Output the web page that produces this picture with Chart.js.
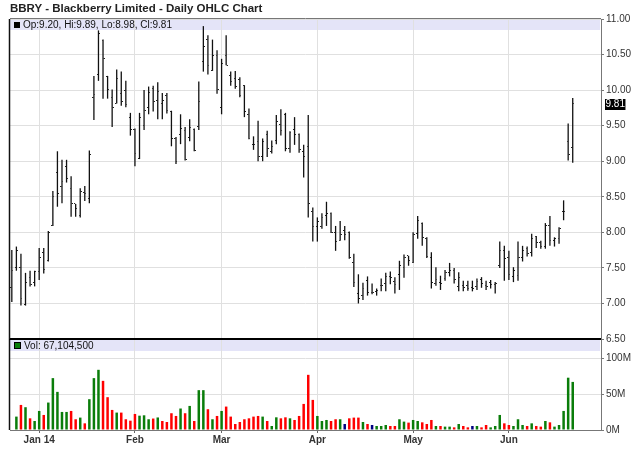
<!DOCTYPE html>
<html>
<head>
<meta charset="utf-8">
<script src="https://cdn.jsdelivr.net/npm/chart.js@4.4.1/dist/chart.umd.min.js"></script>
<style>
  body { margin: 0; background: #fff; width: 640px; height: 468px; position: relative; overflow: hidden;
         font-family: "Liberation Sans", Arial, sans-serif; }
  canvas { position: absolute; left: 0; }
  #priceCanvas { top: 0; }
  #volCanvas { top: 330px; }
  .txt { position: absolute; white-space: nowrap; color: #111; }
  #title { left: 10px; top: 1px; font-weight: bold; font-size: 11.5px; line-height: 14px; color: #222; }
  .legend { left: 14px; font-size: 10px; line-height: 11px; }
  .sq { display: inline-block; width: 6px; height: 6px; background: #000; margin-right: 3px; vertical-align: 0; }
  .sq.vol { width: 5px; height: 5px; background: #0a7d0a; border: 1px solid #000; }
</style>
</head>
<body>
<canvas id="volCanvas" width="640" height="138"></canvas>
<canvas id="priceCanvas" width="640" height="350"></canvas>
<div id="title" class="txt">BBRY - Blackberry Limited - Daily OHLC Chart</div>
<div id="priceLegend" class="txt legend" style="top:19px"></div>
<div id="volLegend" class="txt legend" style="top:340px"></div>
<script>
// daily bars, 23 Dec 2013 .. 20 Jun 2014 (x = trading day index)
const opens = [7.22, 7.50, 7.50, 6.99, 7.37, 7.30, 7.45, 7.71, 7.61, 8.09,
  8.84, 8.64, 8.93, 8.61, 8.40, 8.23, 8.56, 8.48, 9.90, 10.22,
  10.70, 10.19, 9.90, 9.81, 9.95, 10.00, 9.62, 9.44, 9.04, 9.50,
  9.76, 10.02, 9.85, 9.81, 9.93, 9.70, 9.32, 9.37, 9.43, 9.34,
  9.44, 9.49, 10.40, 10.71, 10.28, 10.49, 9.76, 10.49, 10.21, 10.16,
  10.15, 10.06, 9.66, 9.24, 9.28, 9.07, 9.37, 9.14, 9.29, 9.51,
  9.66, 9.18, 9.44, 9.38, 9.14, 9.21, 8.29, 8.08, 8.08, 8.24,
  8.27, 8.00, 7.88, 8.03, 8.00, 7.57, 7.14, 7.11, 7.32, 7.16,
  7.17, 7.25, 7.28, 7.38, 7.31, 7.41, 7.51, 7.67, 7.58, 7.98,
  8.12, 7.91, 7.64, 7.28, 7.29, 7.35, 7.44, 7.46, 7.24, 7.25,
  7.25, 7.23, 7.24, 7.33, 7.25, 7.30, 7.27, 7.53, 7.74, 7.64,
  7.38, 7.39, 7.64, 7.77, 7.71, 7.94, 7.86, 7.80, 8.09, 7.88,
  7.91, 8.30, 9.28, 9.20];
const highs = [7.75, 7.80, 7.70, 7.43, 7.46, 7.46, 7.78, 7.78, 8.02, 8.58,
  9.14, 9.02, 9.02, 8.79, 8.40, 8.62, 8.65, 9.15, 10.20, 10.84,
  10.71, 10.20, 10.01, 10.29, 10.26, 10.13, 9.68, 9.46, 9.68, 10.00,
  10.05, 10.06, 10.11, 9.96, 9.96, 9.71, 9.34, 9.66, 9.48, 9.59,
  9.46, 10.12, 10.90, 10.77, 10.71, 10.56, 10.44, 10.77, 10.26, 10.27,
  10.18, 10.07, 9.74, 9.35, 9.57, 9.32, 9.43, 9.29, 9.65, 9.73,
  9.68, 9.42, 9.62, 9.39, 9.23, 9.65, 8.35, 8.21, 8.27, 8.43,
  8.28, 8.09, 8.16, 8.09, 8.01, 7.70, 7.41, 7.29, 7.38, 7.28,
  7.21, 7.35, 7.43, 7.45, 7.37, 7.60, 7.69, 7.67, 8.00, 8.23,
  8.14, 7.93, 7.72, 7.51, 7.39, 7.47, 7.57, 7.50, 7.44, 7.32,
  7.32, 7.32, 7.35, 7.37, 7.32, 7.33, 7.30, 7.87, 7.81, 7.74,
  7.51, 7.87, 7.81, 7.80, 7.98, 7.95, 7.88, 8.13, 8.23, 7.93,
  8.07, 8.45, 9.53, 9.89];
const lows = [7.02, 7.46, 6.97, 6.97, 7.24, 7.24, 7.33, 7.42, 7.59, 8.09,
  8.36, 8.41, 8.70, 8.22, 8.22, 8.21, 8.44, 8.41, 9.58, 10.13,
  9.88, 9.88, 9.48, 9.81, 9.78, 9.76, 9.36, 8.93, 9.03, 9.44,
  9.66, 9.70, 9.59, 9.59, 9.67, 9.21, 8.96, 9.24, 9.01, 9.28,
  9.14, 9.44, 10.26, 10.22, 10.27, 9.95, 9.66, 10.35, 10.06, 10.02,
  9.90, 9.62, 9.31, 9.16, 9.00, 9.00, 9.06, 9.11, 9.24, 9.36,
  9.14, 9.12, 9.23, 9.12, 8.77, 8.21, 7.87, 7.87, 8.05, 8.09,
  7.99, 7.74, 7.88, 7.89, 7.63, 7.23, 7.00, 7.05, 7.11, 7.13,
  7.11, 7.17, 7.17, 7.27, 7.14, 7.19, 7.36, 7.53, 7.57, 7.91,
  7.81, 7.64, 7.21, 7.25, 7.19, 7.32, 7.38, 7.28, 7.17, 7.17,
  7.18, 7.17, 7.19, 7.22, 7.19, 7.21, 7.14, 7.50, 7.32, 7.33,
  7.30, 7.32, 7.59, 7.66, 7.66, 7.78, 7.77, 7.77, 7.81, 7.80,
  7.84, 8.17, 9.01, 8.98];
const closes = [7.47, 7.74, 7.07, 7.30, 7.26, 7.45, 7.64, 7.48, 8.00, 8.51,
  8.54, 8.72, 8.76, 8.40, 8.33, 8.57, 8.55, 9.09, 9.94, 10.79,
  10.44, 10.01, 9.76, 10.16, 9.84, 9.80, 9.45, 9.11, 9.62, 9.71,
  9.96, 9.84, 9.98, 9.85, 9.72, 9.32, 8.99, 9.46, 9.02, 9.48,
  9.15, 9.84, 10.61, 10.34, 10.49, 10.01, 10.37, 10.35, 10.12, 10.05,
  9.92, 9.70, 9.32, 9.23, 9.07, 9.28, 9.18, 9.21, 9.56, 9.43,
  9.18, 9.40, 9.37, 9.16, 9.07, 8.41, 8.08, 8.15, 8.21, 8.26,
  8.00, 7.87, 7.97, 7.97, 7.64, 7.29, 7.07, 7.21, 7.16, 7.16,
  7.18, 7.25, 7.38, 7.36, 7.27, 7.53, 7.64, 7.60, 7.97, 8.16,
  7.93, 7.66, 7.29, 7.33, 7.28, 7.44, 7.47, 7.33, 7.36, 7.23,
  7.21, 7.21, 7.31, 7.28, 7.24, 7.27, 7.28, 7.74, 7.63, 7.41,
  7.46, 7.64, 7.74, 7.70, 7.91, 7.86, 7.80, 8.09, 7.88, 7.91,
  8.05, 8.29, 9.10, 9.81];
// volume in millions of shares (first day has no bar)
const volumesM = [null, 18.7, 35, 31.8, 16.3, 12.6, 26.6, 21, 38.3, 72.4,
  53.2, 25.2, 25.2, 26.6, 15, 17.3, 9.3, 43, 72.4, 84,
  68.6, 45.8, 28, 24.3, 24.3, 15, 13, 22.4, 20, 20.5,
  15, 16, 17.5, 12.6, 11.2, 23.4, 19.6, 30, 23.4, 33.6,
  12.6, 55.6, 55.6, 29, 15, 19.6, 26.6, 32.7, 18.7, 8.4,
  11.2, 15, 16.3, 18.7, 19.6, 18.7, 12.6, 5.6, 17.7, 16.3,
  17.7, 16.3, 14, 19.6, 36.4, 77, 42, 19.6, 12.6, 14,
  12.6, 15, 15, 8.4, 16.3, 17.3, 17.3, 11.2, 8.4, 7,
  5.6, 5.6, 7, 5.6, 5.6, 15, 11.7, 10.3, 14, 12.6,
  10.7, 8.4, 14, 5.6, 5.6, 4.7, 4.7, 3.7, 8.4, 5.6,
  3.7, 5.6, 5.6, 3.7, 7, 3.7, 5.6, 21, 9.3, 7,
  5.6, 15, 7, 5.6, 9.3, 5.6, 4.7, 12.6, 10.7, 4.7,
  7, 26.6, 73, 67.1045];
const monthTickIdx = [6, 27, 46, 67, 88, 109];
const monthTickLabels = ['Jan 14', 'Feb', 'Mar', 'Apr', 'May', 'Jun'];
const priceTicks = [6.5, 7, 7.5, 8, 8.5, 9, 9.5, 10, 10.5, 11];
const volTicksM = [0, 50, 100];

const FONT = '"Liberation Sans", Arial, sans-serif';
const GREEN = '#0a7d0a', RED = '#ff0000', BLUE = '#000080';
const GRID = '#e0e0e0', BAND = '#e4e4f8';
const X_MIN = -0.4, X_MAX = 129.2;

Chart.defaults.font.family = FONT;
Chart.defaults.font.size = 10;
Chart.defaults.color = '#333';

// legends
const last = closes.length - 1;
document.getElementById('priceLegend').innerHTML = '<span class="sq"></span>' +
  `Op:${opens[last].toFixed(2)}, Hi:${highs[last].toFixed(2)}, Lo:${lows[last].toFixed(2)}, Cl:${closes[last].toFixed(2)}`;
document.getElementById('volLegend').innerHTML = '<span class="sq vol"></span>' +
  'Vol: ' + Math.round(volumesM[last] * 1e6).toLocaleString('en-US');

// small open / close tick marks used as point styles
function tickImg(side) {
  const c = document.createElement('canvas');
  c.width = 3; c.height = 1;
  const g = c.getContext('2d');
  g.fillStyle = '#222';
  g.fillRect(side === 'left' ? 0 : 2, 0, 1, 1);
  return c;
}

const panelDeco = {
  id: 'panelDeco',
  beforeDraw(chart, args, opts) {
    const { ctx, chartArea: a } = chart;
    ctx.save();
    ctx.fillStyle = BAND;
    ctx.fillRect(a.left, a.top + opts.bandOffset, a.right - a.left - 1, 11);
    ctx.restore();
  },
  afterDraw(chart, args, opts) {
    const { ctx, chartArea: a } = chart;
    ctx.save();
    ctx.strokeStyle = '#111';
    ctx.lineWidth = 1.5;
    ctx.beginPath();
    ctx.moveTo(a.left - 0.5, a.top);
    ctx.lineTo(a.left - 0.5, a.bottom);
    ctx.stroke();
    if (opts.topLine) {
      ctx.strokeStyle = '#777';
      ctx.lineWidth = 1;
      ctx.beginPath();
      ctx.moveTo(a.left, a.top - 0.5);
      ctx.lineTo(a.right, a.top - 0.5);
      ctx.stroke();
    }
    ctx.restore();
  }
};

const lastPriceTag = {
  id: 'lastPriceTag',
  afterDraw(chart) {
    const { ctx, chartArea: a, scales: { y } } = chart;
    const v = closes[last];
    const py = y.getPixelForValue(v);
    const txt = v.toFixed(2);
    ctx.save();
    ctx.font = '10px ' + FONT;
    const w = ctx.measureText(txt).width + 1;
    ctx.fillStyle = '#000';
    ctx.fillRect(a.right + 4, Math.round(py) - 5, w, 11);
    ctx.fillStyle = '#fff';
    ctx.textBaseline = 'middle';
    ctx.fillText(txt, a.right + 4.5, Math.round(py) + 0.5);
    ctx.restore();
  }
};

const monthAxis = (extra) => Object.assign({
  type: 'linear', min: X_MIN, max: X_MAX, offset: false,
  afterBuildTicks: s => { s.ticks = monthTickIdx.map(v => ({ value: v })); }
}, extra);

const rightAxis = (extra) => Object.assign({
  position: 'right',
  afterFit: s => { s.width = 39; s.paddingTop = 0; s.paddingBottom = 0; }
}, extra);

new Chart(document.getElementById('priceCanvas'), {
  type: 'bar',
  data: {
    datasets: [
      {
        type: 'bar',
        data: closes.map((c, i) => ({ x: i, y: [lows[i], highs[i]] })),
        backgroundColor: '#111', barThickness: 1.3, inflateAmount: 0, borderWidth: 0
      },
      {
        type: 'scatter',
        data: opens.map((o, i) => ({ x: i, y: o })),
        pointStyle: tickImg('left'), pointRadius: 2
      },
      {
        type: 'scatter',
        data: closes.map((c, i) => ({ x: i, y: c })),
        pointStyle: tickImg('right'), pointRadius: 2
      }
    ]
  },
  options: {
    responsive: false, animation: false, events: [],
    layout: { padding: { left: 10, top: 19, right: 0, bottom: 11 } },
    plugins: {
      legend: { display: false }, tooltip: { enabled: false },
      panelDeco: { bandOffset: 0, topLine: true }
    },
    scales: {
      x: monthAxis({
        grid: { color: GRID, offset: false, drawTicks: false },
        border: { display: true, color: '#000', width: 2 },
        ticks: { display: false },
        afterFit: s => { s.height = 0; }
      }),
      y: rightAxis({
        min: 6.5, max: 11,
        afterBuildTicks: s => { s.ticks = priceTicks.map(v => ({ value: v })); },
        grid: { color: GRID, tickLength: 3, tickColor: '#777' },
        border: { color: '#777' },
        ticks: { padding: 2, color: '#333', callback: v => v.toFixed(2) }
      })
    }
  },
  plugins: [panelDeco, lastPriceTag]
});

const volColors = closes.map((c, i) => {
  if (i === 0) return 'rgba(0,0,0,0)';
  if (c > closes[i - 1] + 1e-9) return GREEN;
  if (c < closes[i - 1] - 1e-9) return RED;
  return BLUE;
});

new Chart(document.getElementById('volCanvas'), {
  type: 'bar',
  data: {
    datasets: [{
      data: volumesM.map((v, i) => ({ x: i, y: v })),
      backgroundColor: volColors, barThickness: 2.5, inflateAmount: 0, borderWidth: 0
    }]
  },
  options: {
    responsive: false, animation: false, events: [],
    layout: { padding: { left: 10, top: 9, right: 0, bottom: 0 } },
    plugins: {
      legend: { display: false }, tooltip: { enabled: false },
      panelDeco: { bandOffset: 1, topLine: false }
    },
    scales: {
      x: monthAxis({
        grid: { color: GRID, offset: false, tickLength: 3, tickColor: '#666' },
        border: { color: '#777' },
        ticks: {
          padding: 1, color: '#333', font: { weight: 'bold', size: 10 }, maxRotation: 0, autoSkip: false,
          callback: v => monthTickLabels[monthTickIdx.indexOf(v)]
        },
        afterFit: s => { s.height = 38; }
      }),
      y: rightAxis({
        min: 0, max: 127,
        afterBuildTicks: s => { s.ticks = volTicksM.map(v => ({ value: v })); },
        grid: { color: GRID, tickLength: 3, tickColor: '#777' },
        border: { color: '#777' },
        ticks: { padding: 2, color: '#333', callback: v => v + 'M' }
      })
    }
  },
  plugins: [panelDeco]
});
</script>
</body>
</html>
